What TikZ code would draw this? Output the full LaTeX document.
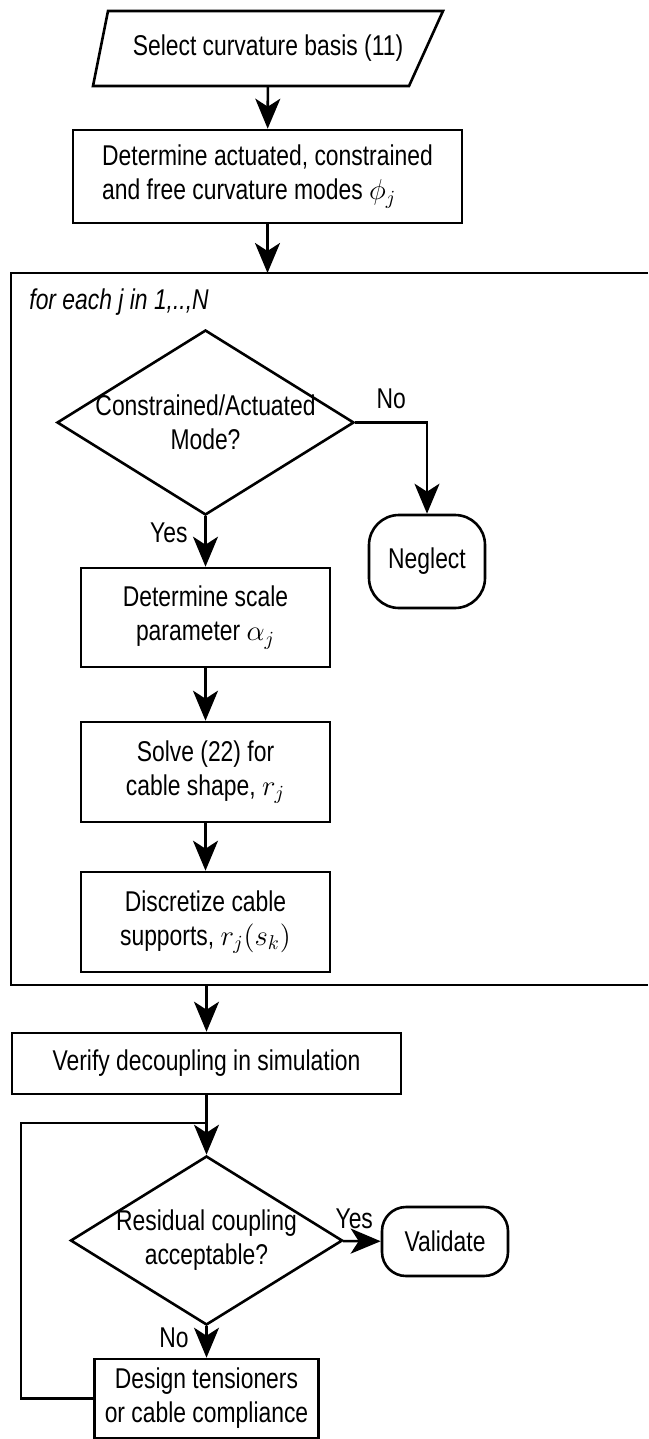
\documentclass[tikz,border=0pt]{standalone}
\usepackage{fontspec}
\setmainfont{Liberation Sans}[FakeStretch=0.8]
\usetikzlibrary{shapes,arrows.meta,positioning}
\tikzstyle{arrow} = [-{Stealth[length=15pt,width=12.5pt,inset=4pt]}, line width=1.3pt]
\tikzstyle{connector} = [line width=1.3pt]
\tikzstyle{process} = [rectangle, draw, line width=1.3pt, align=center, inner sep=2pt]
\tikzstyle{decision} = [diamond, draw, line width=1.3pt, align=center, aspect=1.6, inner sep=-4pt]
\tikzstyle{terminal} = [rectangle, draw, line width=1.3pt, align=center, inner sep=2pt]

\begin{document}
\begin{tikzpicture}[x=0.5pt, y=-0.5pt, font=\fontsize{14.3}{17}\selectfont]
    \useasboundingbox (0,0) rectangle (648,1439);

    % Setup
    \node[minimum width=175pt, minimum height=37.5pt] (basis) at (268,48.5) {Select curvature basis (11)};
    \coordinate (basisNW) at (108,11);
    \coordinate (basisNE) at (443,11);
    \coordinate (basisSE) at (409,86);
    \coordinate (basisSW) at (93,86);
    \draw[connector] (basisSW) -- (basisNW) -- (basisNE) -- (basisSE) -- cycle;
    \node[process, align=left, minimum width=194.5pt, minimum height=46.5pt] (modes) at (267.5,176.5) {Determine actuated, constrained\\and free curvature modes $\phi_j$};

    % Loop frame
    \coordinate (frameNE) at (648,273);
    \coordinate (frameNW) at (11,273);
    \coordinate (frameSW) at (11,985);
    \coordinate (frameSE) at (648,985);
    \draw[connector] (frameNE) -- (frameNW) -- (frameSW) -- (frameSE);
    \node[anchor=west, inner sep=0pt] (looptitle) at (29,302) {\textit{for each j in 1,..,N}};

    % Loop body
    \node[decision, minimum width=148.5pt, minimum height=92.5pt] (mode) at (205.5,422.5) {Constrained/Actuated\\Mode?};
    \node[terminal, rounded corners=15pt, minimum width=58pt, minimum height=46.5pt] (neglect) at (427,561.5) {Neglect};
    \node[process, minimum width=124.5pt, minimum height=49.5pt] (scale) at (205.5,617.5) {Determine scale\\parameter $\alpha_j$};
    \node[process, minimum width=124.5pt, minimum height=50pt] (shape) at (205.5,772) {Solve (22) for\\cable shape, $r_j$};
    \node[process, minimum width=124.5pt, minimum height=50pt] (supports) at (205.5,922) {Discretize cable\\supports, $r_j(s_k)$};

    % Check
    \node[process, minimum width=194.5pt, minimum height=30.5pt] (verify) at (206.5,1063.5) {Verify decoupling in simulation};
    \node[decision, minimum width=136pt, minimum height=84.5pt] (residual) at (206.5,1240.5) {Residual coupling\\acceptable?};
    \node[terminal, rounded corners=12pt, minimum width=63pt, minimum height=34.5pt] (validate) at (445,1241.5) {Validate};
    \node[process, minimum width=112pt, minimum height=39.5pt] (tension) at (206.5,1398.5) {Design tensioners\\or cable compliance};
    \coordinate (retcorner) at (21,1123);
    \coordinate (retjoin) at (206.5,1123);

    % Arrows
    \draw[arrow] (basis) -- (modes);
    \draw[arrow] (modes) -- (modes.south |- frameNW);
    \draw[arrow] (mode) -- node[pos=0.32, left=5pt] {Yes} (scale);
    \draw[arrow] (mode.east) -| node[pos=0.25, above=3pt] {No} (neglect.north);
    \draw[arrow] (scale) -- (shape);
    \draw[arrow] (shape) -- (supports);
    \draw[arrow] (verify.north |- frameSW) -- (verify);
    \draw[arrow] (verify) -- (residual);
    \draw[arrow] (residual) -- node[pos=0.3, above=2pt] {Yes} (validate);
    \draw[arrow] (residual) -- node[pos=0.38, left=5pt] {No} (tension);
    \draw[connector] (tension.west) -| (retcorner) -- (retjoin);
\end{tikzpicture}
\end{document}
